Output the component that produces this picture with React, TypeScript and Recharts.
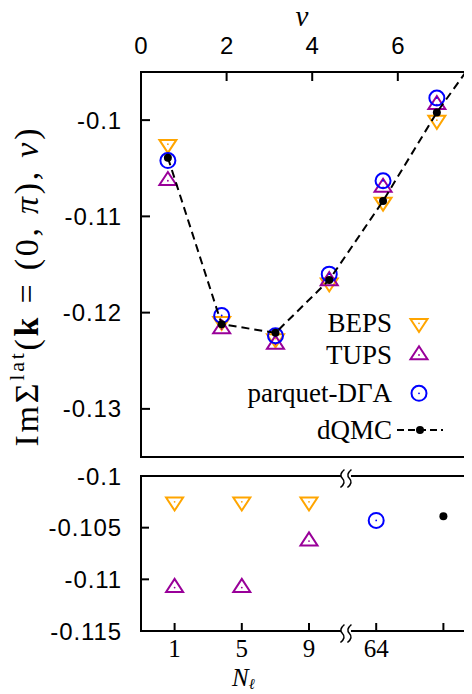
import React from 'react';
import { ScatterChart, Scatter, XAxis, YAxis, ReferenceArea, ReferenceDot, Legend } from 'recharts';

// ---------- top panel data (Matsubara frequencies) ----------
const nuPoints = [0.628, 1.885, 3.142, 4.398, 5.655, 6.912];
const bepsNu = [-0.1025, -0.1209, -0.1227, -0.1169, -0.1085, -0.1];
const tupsNu = [-0.1063, -0.1217, -0.1233, -0.1167, -0.107, -0.0984];
const parquetNu = [-0.1042, -0.1203, -0.1224, -0.116, -0.1063, -0.0977];
const dqmcNuPoints = [0.628, 1.885, 3.142, 4.398, 5.655, 6.912, 8.168];
const dqmcNu = [-0.1039, -0.1212, -0.1221, -0.1166, -0.1084, -0.0992, -0.0914];

const nuTicks = [0, 2, 4, 6];
const nuDomain = [0, 7.85];
const topYTicks = [-0.13, -0.12, -0.11, -0.1];
const topYDomain = [-0.135, -0.095];

// ---------- bottom panel data (N_l categories) ----------
const nlLabels = ['1', '5', '9', '64', ''];
const bepsNl = [-0.1025, -0.1025, -0.1025, null, null];
const tupsNl = [-0.1108, -0.1108, -0.1063, null, null];
const parquetNl = [null, null, null, -0.1043, null];
const dqmcNl = [null, null, null, null, -0.1039];
const bottomYTicks = [-0.115, -0.11, -0.105, -0.1];
const bottomYDomain = [-0.115, -0.1];

// ---------- series ----------
const seriesNames = ['BEPS', 'TUPS', 'parquet-D\u0393A', 'dQMC'];
const seriesColors = ['#ffa500', '#990099', '#0000ff', '#000000'];
const seriesKinds = ['down', 'up', 'circle', 'dot'];

const SANS = "'Liberation Sans', Arial, Helvetica, sans-serif";
const SERIF = "'Liberation Serif', 'Times New Roman', serif";

const toPts = (xs: number[], ys: number[]) => xs.map((x, i) => ({ x, y: ys[i] }));
const toCatPts = (ys: (number | null)[]) =>
  ys.map((y, i) => (y == null ? null : { x: i + 0.5, y })).filter(Boolean) as { x: number; y: number }[];

const drawMarker = (kind: string, color: string, cx: number, cy: number) => {
  if (kind === 'down')
    return (
      <g>
        <path d={`M${cx - 8.5},${cy - 4.3}L${cx + 8.5},${cy - 4.3}L${cx},${cy + 8.7}Z`} fill="none" stroke={color} strokeWidth={2} />
        <circle cx={cx} cy={cy} r={0.9} fill={color} />
      </g>
    );
  if (kind === 'up')
    return (
      <g>
        <path d={`M${cx - 8.5},${cy + 4.3}L${cx + 8.5},${cy + 4.3}L${cx},${cy - 8.7}Z`} fill="none" stroke={color} strokeWidth={2} />
        <circle cx={cx} cy={cy} r={0.9} fill={color} />
      </g>
    );
  if (kind === 'circle')
    return (
      <g>
        <circle cx={cx} cy={cy} r={7.5} fill="none" stroke={color} strokeWidth={2} />
        <circle cx={cx} cy={cy} r={0.9} fill={color} />
      </g>
    );
  return <circle cx={cx} cy={cy} r={4} fill={color} />;
};

const shapeFor = (i: number) => (p: any) => drawMarker(seriesKinds[i], seriesColors[i], p.cx, p.cy);

const legendRowY = [323.3, 355, 393.3, 430];
const renderLegend = () => (
  <svg width={490} height={470} style={{ position: 'absolute', left: 0, top: 0, pointerEvents: 'none' }}>
    {seriesNames.map((name, i) => (
      <g key={name}>
        <text x={392} y={legendRowY[i] + 8.5} textAnchor="end" fontFamily={SERIF} fontSize={27} fill="#000">
          {name}
        </text>
        {seriesKinds[i] === 'dot' ? (
          <g>
            <line x1={397} x2={443} y1={legendRowY[i]} y2={legendRowY[i]} stroke="#000" strokeWidth={2} strokeDasharray="7 4" />
            {drawMarker('dot', seriesColors[i], 420, legendRowY[i])}
          </g>
        ) : (
          drawMarker(seriesKinds[i], seriesColors[i], 419, legendRowY[i])
        )}
      </g>
    ))}
  </svg>
);

const NuLabel = (props: any) => {
  const vb = props.viewBox || { x: 141, y: 12, width: 336, height: 60 };
  return (
    <text x={vb.x + vb.width / 2 - 7} y={vb.y + 14} textAnchor="middle" fontFamily={SERIF} fontStyle="italic" fontSize={29} fill="#000">
      ν
    </text>
  );
};

const YLabel = (props: any) => {
  const vb = props.viewBox || { x: 41, y: 72, width: 100, height: 385 };
  const x = vb.x - 3;
  const y = vb.y + vb.height / 2 + 23;
  return (
    <text
      transform={`rotate(-90 ${x} ${y})`}
      x={x}
      y={y}
      textAnchor="middle"
      fontFamily={SERIF}
      fontSize={34}
      fill="#000"
      textLength={318}
      lengthAdjust="spacing"
    >
      {'Im\u03A3'}
      <tspan fontSize={22} dy={-14}>lat</tspan>
      <tspan dy={14}>(</tspan>
      <tspan fontWeight="bold">k</tspan>
      {' = (0, '}
      <tspan fontStyle="italic">π</tspan>
      {'), '}
      <tspan fontStyle="italic">ν</tspan>
      {')'}
    </text>
  );
};

const NlLabel = (props: any) => {
  const vb = props.viewBox || { x: 141, y: 181, width: 336, height: 50 };
  return (
    <text x={vb.x + 91} y={vb.y + 55} fontFamily={SERIF} fontSize={25} fontStyle="italic" fill="#000">
      N
      <tspan fontSize={15} dy={3}>ℓ</tspan>
    </text>
  );
};

const breakShape = (p: any) => {
  const { cx, cy } = p;
  const c = cy + 2.5;
  const s = (x: number) => `M${x + 2},${c - 9} Q${x - 4},${c - 4} ${x},${c} Q${x + 4},${c + 4} ${x - 2},${c + 9}`;
  return (
    <g>
      <rect x={cx - 5} y={cy - 2} width={10} height={4} fill="#fff" />
      <path d={s(cx - 3.5)} fill="none" stroke="#000" strokeWidth={1.5} />
      <path d={s(cx + 3.5)} fill="none" stroke="#000" strokeWidth={1.5} />
    </g>
  );
};

const tickLineStyle = { stroke: '#000', strokeWidth: 2 };
const sansTick = { fill: '#000', fontSize: 24, fontFamily: SANS };
const sansTickSpaced = { fill: '#000', fontSize: 24, fontFamily: SANS, letterSpacing: 0.9 };
const serifTick = { fill: '#000', fontSize: 25, fontFamily: SERIF };

export default function App() {
  const bepsTop = toPts(nuPoints, bepsNu);
  const tupsTop = toPts(nuPoints, tupsNu);
  const parquetTop = toPts(nuPoints, parquetNu);
  const dqmcTop = toPts(dqmcNuPoints, dqmcNu);

  const catTicks = nlLabels.map((_, i) => i + 0.5);
  const bepsBot = toCatPts(bepsNl);
  const tupsBot = toCatPts(tupsNl);
  const parquetBot = toCatPts(parquetNl);
  const dqmcBot = toCatPts(dqmcNl);

  return (
    <div style={{ position: 'relative', width: 472, height: 694, overflow: 'hidden', margin: '-8px 0 0 -8px', background: '#fff' }}>
      <div style={{ position: 'absolute', left: 0, top: 0 }}>
        <ScatterChart width={490} height={470} margin={{ top: 12, right: 12, bottom: 13, left: 41 }}>
          <XAxis
            type="number"
            dataKey="x"
            orientation="top"
            domain={nuDomain}
            ticks={nuTicks}
            interval={0}
            allowDataOverflow
            height={60}
            axisLine={false}
            tickLine={tickLineStyle}
            tickSize={-9}
            tickMargin={27}
            tick={sansTick}
            label={NuLabel}
          />
          <YAxis
            type="number"
            dataKey="y"
            domain={topYDomain}
            ticks={topYTicks}
            interval={0}
            allowDataOverflow
            width={100}
            axisLine={false}
            tickLine={tickLineStyle}
            tickSize={-9}
            tickMargin={28}
            tick={sansTickSpaced}
            label={YLabel}
          />
          <YAxis
            yAxisId="r"
            orientation="right"
            type="number"
            domain={topYDomain}
            ticks={topYTicks}
            interval={0}
            allowDataOverflow
            width={1}
            axisLine={false}
            tickLine={tickLineStyle}
            tickSize={-9}
            tick={false}
          />
          <ReferenceArea x1={nuDomain[0]} x2={nuDomain[1]} y1={topYDomain[0]} y2={topYDomain[1]} fill="none" fillOpacity={0} stroke="#000" strokeWidth={2} />
          <Scatter name={seriesNames[0]} data={bepsTop} shape={shapeFor(0)} isAnimationActive={false} />
          <Scatter name={seriesNames[1]} data={tupsTop} shape={shapeFor(1)} isAnimationActive={false} />
          <Scatter name={seriesNames[2]} data={parquetTop} shape={shapeFor(2)} isAnimationActive={false} />
          <Scatter
            name={seriesNames[3]}
            data={dqmcTop}
            shape={shapeFor(3)}
            line={{ stroke: '#000', strokeWidth: 2, strokeDasharray: '8 5' }}
            lineType="joint"
            isAnimationActive={false}
          />
          <Legend
            content={renderLegend}
            layout="vertical"
            align="center"
            verticalAlign="middle"
            wrapperStyle={{ position: 'absolute', left: 0, top: 0, width: 490, height: 470 }}
          />
        </ScatterChart>
      </div>
      <div style={{ position: 'absolute', left: 0, top: 450 }}>
        <ScatterChart width={490} height={244} margin={{ top: 25, right: 12, bottom: 13, left: 41 }}>
          <XAxis
            type="number"
            dataKey="x"
            domain={[0, nlLabels.length]}
            ticks={catTicks}
            interval={0}
            allowDataOverflow
            height={50}
            axisLine={false}
            tickLine={tickLineStyle}
            tickSize={-8}
            tickMargin={16}
            tick={serifTick}
            tickFormatter={(v: number) => nlLabels[Math.round(v - 0.5)]}
            label={NlLabel}
          />
          <XAxis
            xAxisId="t"
            orientation="top"
            type="number"
            domain={[0, nlLabels.length]}
            ticks={catTicks}
            interval={0}
            allowDataOverflow
            height={1}
            axisLine={false}
            tickLine={tickLineStyle}
            tickSize={-8}
            tick={false}
          />
          <YAxis
            type="number"
            dataKey="y"
            domain={bottomYDomain}
            ticks={bottomYTicks}
            interval={0}
            allowDataOverflow
            width={100}
            axisLine={false}
            tickLine={tickLineStyle}
            tickSize={-8}
            tickMargin={27}
            tick={sansTickSpaced}
          />
          <YAxis
            yAxisId="r"
            orientation="right"
            type="number"
            domain={bottomYDomain}
            ticks={bottomYTicks}
            interval={0}
            allowDataOverflow
            width={1}
            axisLine={false}
            tickLine={tickLineStyle}
            tickSize={-8}
            tick={false}
          />
          <ReferenceArea x1={0} x2={nlLabels.length} y1={bottomYDomain[0]} y2={bottomYDomain[1]} fill="none" fillOpacity={0} stroke="#000" strokeWidth={2} />
          <ReferenceDot x={3.05} y={bottomYDomain[1]} shape={breakShape} ifOverflow="visible" />
          <ReferenceDot x={3.05} y={bottomYDomain[0]} shape={breakShape} ifOverflow="visible" />
          <Scatter name={seriesNames[0]} data={bepsBot} shape={shapeFor(0)} isAnimationActive={false} />
          <Scatter name={seriesNames[1]} data={tupsBot} shape={shapeFor(1)} isAnimationActive={false} />
          <Scatter name={seriesNames[2]} data={parquetBot} shape={shapeFor(2)} isAnimationActive={false} />
          <Scatter name={seriesNames[3]} data={dqmcBot} shape={shapeFor(3)} isAnimationActive={false} />
        </ScatterChart>
      </div>
    </div>
  );
}
